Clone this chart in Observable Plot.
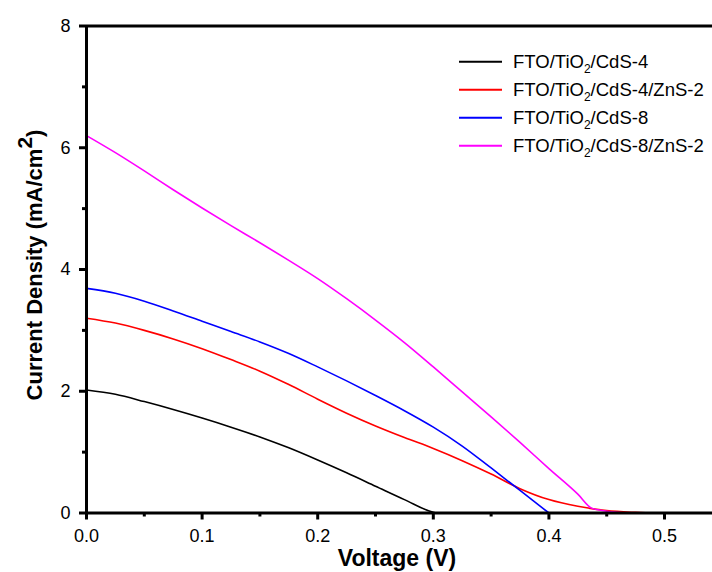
<!DOCTYPE html>
<html><head><meta charset="utf-8">
<script src="https://cdn.jsdelivr.net/npm/d3@7"></script>
<script src="https://cdn.jsdelivr.net/npm/@observablehq/plot@0.6"></script>
<style>
body{margin:0;background:#fff;}
#chart{position:relative;width:712px;height:572px;overflow:hidden;}
</style>
</head><body><div id="chart"></div>
<script>
// Series labels: [prefix, subscript, suffix]
const seriesNames = ["FTO/TiO2/CdS-4", "FTO/TiO2/CdS-4/ZnS-2", "FTO/TiO2/CdS-8", "FTO/TiO2/CdS-8/ZnS-2"];
const seriesLabelParts = [
  ["FTO/TiO", "2", "/CdS-4"],
  ["FTO/TiO", "2", "/CdS-4/ZnS-2"],
  ["FTO/TiO", "2", "/CdS-8"],
  ["FTO/TiO", "2", "/CdS-8/ZnS-2"]
];
const seriesColors = ["#000000", "#ff0000", "#0000ff", "#ff00ff"];

// FTO/TiO2/CdS-4
const vCdS4 = [0, 0.025, 0.05, 0.075, 0.1, 0.125, 0.15, 0.175, 0.2, 0.225, 0.25, 0.275, 0.3, 0.302];
const jCdS4 = [2.02, 1.95, 1.83, 1.70, 1.56, 1.41, 1.25, 1.07, 0.87, 0.66, 0.44, 0.22, 0.01, 0];
// FTO/TiO2/CdS-4/ZnS-2
const vCdS4ZnS = [0, 0.025, 0.05, 0.075, 0.1, 0.125, 0.15, 0.175, 0.2, 0.225, 0.25, 0.275, 0.3, 0.325, 0.35, 0.375, 0.4, 0.425, 0.45, 0.475, 0.488];
const jCdS4ZnS = [3.20, 3.12, 3.00, 2.86, 2.70, 2.52, 2.33, 2.11, 1.87, 1.64, 1.43, 1.24, 1.06, 0.86, 0.64, 0.40, 0.22, 0.11, 0.04, 0.01, 0];
// FTO/TiO2/CdS-8
const vCdS8 = [0, 0.025, 0.05, 0.075, 0.1, 0.125, 0.15, 0.175, 0.2, 0.225, 0.25, 0.275, 0.3, 0.325, 0.35, 0.375, 0.4];
const jCdS8 = [3.69, 3.61, 3.48, 3.32, 3.15, 2.98, 2.81, 2.62, 2.40, 2.17, 1.93, 1.68, 1.41, 1.10, 0.74, 0.37, 0];
// FTO/TiO2/CdS-8/ZnS-2
const vCdS8ZnS = [0, 0.025, 0.05, 0.075, 0.1, 0.125, 0.15, 0.175, 0.2, 0.225, 0.25, 0.275, 0.3, 0.325, 0.35, 0.375, 0.4, 0.425, 0.437, 0.45, 0.47];
const jCdS8ZnS = [6.20, 5.92, 5.62, 5.31, 5.01, 4.72, 4.44, 4.15, 3.85, 3.52, 3.17, 2.80, 2.40, 1.99, 1.58, 1.16, 0.73, 0.31, 0.08, 0.03, 0];

const xTicks = [0, 0.1, 0.2, 0.3, 0.4, 0.5];
const xMinorTicks = [0.05, 0.15, 0.25, 0.35, 0.45];
const yTicks = [0, 2, 4, 6, 8];
const yMinorTicks = [1, 3, 5, 7];
const xLabel = "Voltage (V)";
const yLabelParts = ["Current Density (mA/cm", "2", ")"];

const seriesV = [vCdS4, vCdS4ZnS, vCdS8, vCdS8ZnS];
const seriesJ = [jCdS4, jCdS4ZnS, jCdS8, jCdS8ZnS];
const rows = [];
seriesNames.forEach((s, i) => seriesV[i].forEach((v, k) => rows.push({s, v, j: seriesJ[i][k]})));

const font = "'Liberation Sans', Arial, Helvetica, sans-serif";

const plot = Plot.plot({
  width: 712, height: 572,
  marginLeft: 86, marginRight: 0, marginTop: 25.5, marginBottom: 59.5,
  style: {fontFamily: font, fontSize: "18px", background: "#fff", color: "#000", overflow: "visible"},
  x: {domain: [0, 0.5415]},
  y: {domain: [0, 8]},
  color: {domain: seriesNames, range: seriesColors},
  marks: [
    Plot.line(rows, {x: "v", y: "j", z: "s", stroke: "s", strokeWidth: 1.6, curve: "monotone-x"}),
    Plot.axisX(xTicks, {tickSize: 7, tickPadding: 9, strokeWidth: 3, tickFormat: d3.format(".1f"), label: null, fontSize: 18}),
    Plot.axisX(xMinorTicks, {tickSize: 4, strokeWidth: 3, tickFormat: () => "", label: null}),
    Plot.axisY(yTicks, {tickSize: 7, tickPadding: 9, strokeWidth: 3, tickFormat: d3.format("d"), label: null, fontSize: 18}),
    Plot.axisY(yMinorTicks, {tickSize: 4, strokeWidth: 3, tickFormat: () => "", label: null}),
    Plot.ruleX([0], {strokeWidth: 3}),
    Plot.ruleY([0], {strokeWidth: 3}),
    Plot.ruleY([8], {strokeWidth: 3})
  ]
});

const svg = d3.select(plot);
// x axis label
svg.append("text")
  .attr("x", 397).attr("y", 566)
  .attr("text-anchor", "middle")
  .attr("font-family", font).attr("font-weight", "bold").attr("font-size", 23)
  .attr("fill", "#000")
  .text(xLabel);
// y axis label
const yl = svg.append("text")
  .attr("transform", "translate(42,265) rotate(-90)")
  .attr("text-anchor", "middle")
  .attr("font-family", font).attr("font-weight", "bold").attr("font-size", 22)
  .attr("fill", "#000");
yl.append("tspan").text(yLabelParts[0]);
yl.append("tspan").attr("dy", -10).attr("font-size", 21).text(yLabelParts[1]);
yl.append("tspan").attr("dy", 10).text(yLabelParts[2]);

// legend
const legX0 = 459, legX1 = 502, legTextX = 513, legY0 = 61.7, legDY = 28;
seriesNames.forEach((s, i) => {
  const y = legY0 + i * legDY;
  svg.append("line").attr("x1", legX0).attr("x2", legX1).attr("y1", y).attr("y2", y)
    .attr("stroke", seriesColors[i]).attr("stroke-width", 2);
  const t = svg.append("text").attr("x", legTextX).attr("y", y).attr("dy", "0.36em")
    .attr("text-anchor", "start")
    .attr("font-family", font).attr("font-size", 18.5).attr("fill", "#000");
  const p = seriesLabelParts[i];
  t.append("tspan").text(p[0]);
  t.append("tspan").attr("dy", 5).attr("font-size", 12).text(p[1]);
  t.append("tspan").attr("dy", -5).text(p[2]);
});

document.getElementById("chart").appendChild(plot);
</script>
</body></html>
